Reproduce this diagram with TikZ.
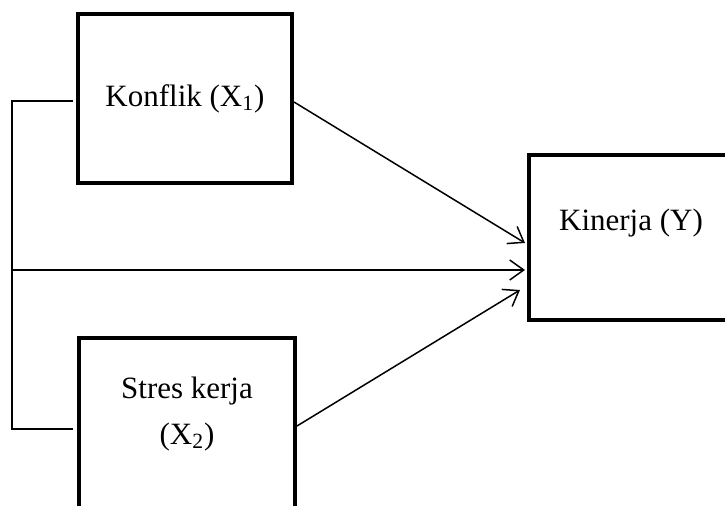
\documentclass[tikz,border=0pt]{standalone}
\usepackage{fontspec}
\setmainfont{Liberation Serif}
\usetikzlibrary{arrows.meta,calc}

\begin{document}
\begin{tikzpicture}[x=0.5pt,y=-0.5pt,
  varbox/.style={draw, line width=2pt, minimum width=107pt, inner sep=0pt},
  lbl/.style={font=\fontsize{15.5}{23}\selectfont, align=center},
  path/.style={line width=0.75pt, -{Straight Barb[length=7pt,width=10pt,line width=0.75pt]}}]
\useasboundingbox (0,0) rectangle (725,506);
% Variable boxes
\node[varbox, minimum height=84.5pt, lbl] (konflik) at (185,98.5) {Konflik (X\textsubscript{1})};
\node[varbox, minimum width=108pt, minimum height=90pt] (stres) at (187,428) {};
\node[lbl] (strestext) at (187,414) {Stres kerja\\(X\textsubscript{2})};
\node[varbox, minimum width=102pt, minimum height=82.5pt] (kinerja) at (631,237.5) {};
\node[lbl] (kinerjatext) at (631,223) {Kinerja (Y)};
% Joint path bracket
\coordinate (jtop) at (12,101);
\coordinate (jmid) at (12,270);
\draw[line width=0.75pt] ($(konflik.west)+(-3,2.5)$) -- (jtop) -- (12,429) -- ($(stres.west)+(-4,1)$);
% Paths to Y
\draw[path] ($(konflik.east)+(0,3.5)$) -- ($(kinerja.west)+(-2,5.5)$);
\draw[path] (jmid) -- ($(kinerja.west)+(-2,32.5)$);
\draw[path] ($(stres.east)+(0,-2)$) -- ($(kinerja.west)+(-7,52.5)$);
\end{tikzpicture}
\end{document}
